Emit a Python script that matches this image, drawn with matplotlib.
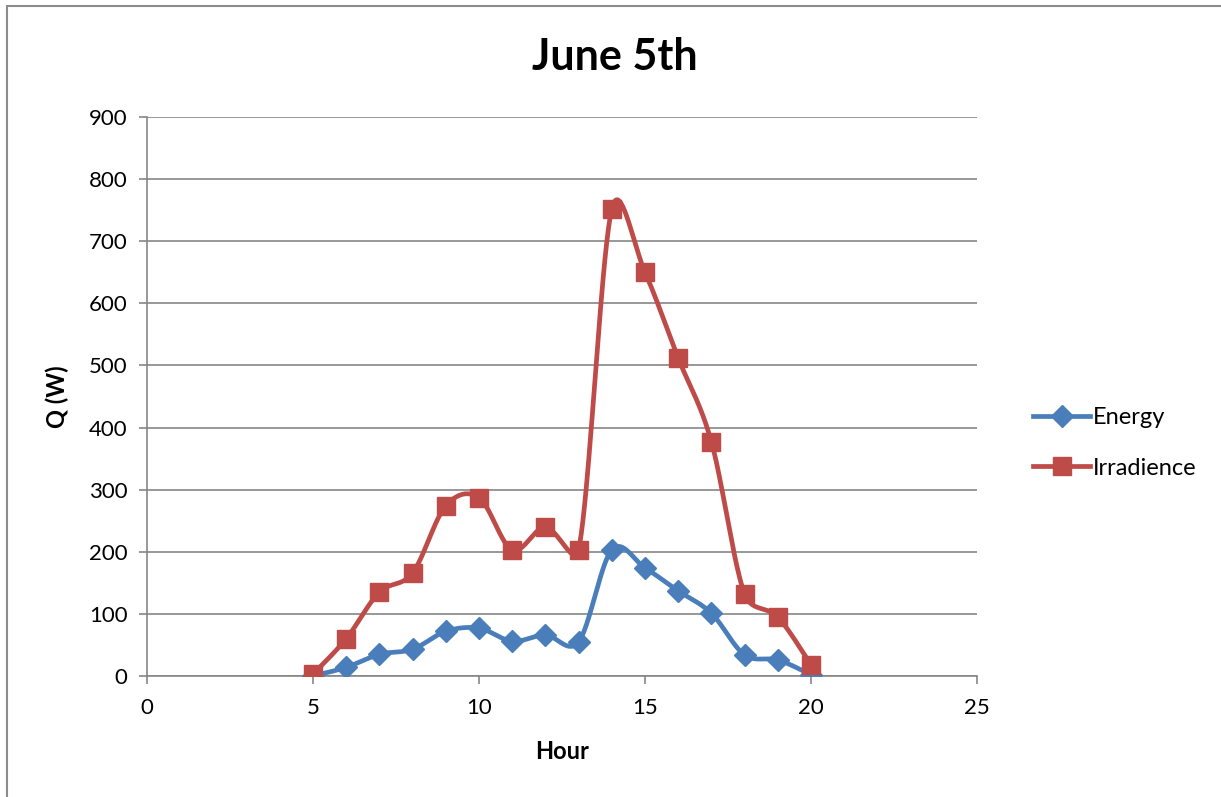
import numpy as np
import matplotlib
matplotlib.use("Agg")
import matplotlib.pyplot as plt
from matplotlib.patches import Rectangle

plt.rcParams['font.family'] = ['Lato', 'DejaVu Sans']

hours = [5, 6, 7, 8, 9, 10, 11, 12, 13, 14, 15, 16, 17, 18, 19, 20]
energy = [0, 14, 35, 43, 72, 77, 56, 66, 55, 203, 174, 137, 101, 34, 26, 2]
irradience = [3, 60, 135, 166, 274, 287, 203, 240, 203, 752, 650, 512, 377, 132, 95, 18]

x_ticks = [0, 5, 10, 15, 20, 25]
y_ticks = [0, 100, 200, 300, 400, 500, 600, 700, 800, 900]


def smooth(ax, xs, ys, n=40, limit=0.5):
    """Bezier smoothing in display space; Catmull-Rom tangents whose handles
    never exceed a fraction of the segment they belong to."""
    pts = ax.transData.transform(np.column_stack([xs, ys]).astype(float))
    m = len(pts)
    tang = np.zeros_like(pts)
    for i in range(m):
        tang[i] = (pts[min(i + 1, m - 1)] - pts[max(i - 1, 0)]) / 6.0
    out = []
    for i in range(m - 1):
        p1, p2 = pts[i], pts[i + 1]
        L = np.hypot(*(p2 - p1)) * limit
        h1 = tang[i]
        n1 = np.hypot(*h1)
        if n1 > L:
            h1 = h1 * L / n1
        h2 = tang[i + 1]
        n2 = np.hypot(*h2)
        if n2 > L:
            h2 = h2 * L / n2
        c1 = p1 + h1
        c2 = p2 - h2
        t = np.linspace(0, 1, n)[:, None]
        seg = ((1 - t) ** 3) * p1 + 3 * ((1 - t) ** 2) * t * c1 + 3 * (1 - t) * t ** 2 * c2 + t ** 3 * p2
        out.append(seg if i == 0 else seg[1:])
    s = ax.transData.inverted().transform(np.vstack(out))
    return s[:, 0], s[:, 1]


fig = plt.figure(figsize=(12.21, 7.97), dpi=100)
fig.patches.append(Rectangle((7 / 1221, -0.1), 1.2, 1.1 - 6 / 797, transform=fig.transFigure,
                             fill=False, edgecolor='#8c8c8c', linewidth=1.5))

ax = fig.add_axes([147 / 1221, 1 - 676 / 797, 830 / 1221, 559 / 797])
ax.set_xlim(0, 25)
ax.set_ylim(0, 900)

blue = '#4A7EBB'
red = '#BE4B48'
lw = 3.4

sx, sy = smooth(ax, hours, energy)
ax.plot(sx, sy, color=blue, linewidth=lw, solid_capstyle='round', zorder=3)
ax.plot(hours, energy, linestyle='none', marker='D', markersize=11, color=blue, zorder=4)

sx, sy = smooth(ax, hours, irradience)
ax.plot(sx, sy, color=red, linewidth=lw, solid_capstyle='round', zorder=3)
ax.plot(hours, irradience, linestyle='none', marker='s', markersize=13.5, color=red, zorder=4)

# legend proxies
ax.plot([], [], color=blue, linewidth=lw, marker='D', markersize=11, label='Energy')
ax.plot([], [], color=red, linewidth=lw, marker='s', markersize=13.5, label='Irradience')

ax.set_xticks(x_ticks)
ax.set_yticks(y_ticks)
ax.tick_params(axis='both', labelsize=16, color='#868686', length=6, width=1.2, direction='out')
ax.tick_params(axis='y', pad=8)
ax.tick_params(axis='x', pad=10)
ax.yaxis.grid(True, color='#868686', linewidth=1.2)
ax.set_axisbelow(True)
for side in ['top', 'right']:
    ax.spines[side].set_visible(False)
for side in ['left', 'bottom']:
    ax.spines[side].set_color('#868686')
    ax.spines[side].set_linewidth(1.2)

ax.set_xlabel('Hour', fontsize=17, fontweight='bold', labelpad=16)
ax.set_ylabel('Q (W)', fontsize=17, fontweight='bold', labelpad=14)

fig.text(615 / 1221, 1 - 57 / 797, 'June 5th', fontsize=31, fontweight='bold',
         ha='center', va='center')

handles, labels = ax.get_legend_handles_labels()
fig.legend(handles[-2:], labels[-2:], loc='center left',
           bbox_to_anchor=(1024 / 1221, 1 - 443 / 797), frameon=False,
           fontsize=17, handlelength=2.4, labelspacing=1.25, handletextpad=0.1,
           borderaxespad=0)

fig.savefig('out.png', dpi=100)
